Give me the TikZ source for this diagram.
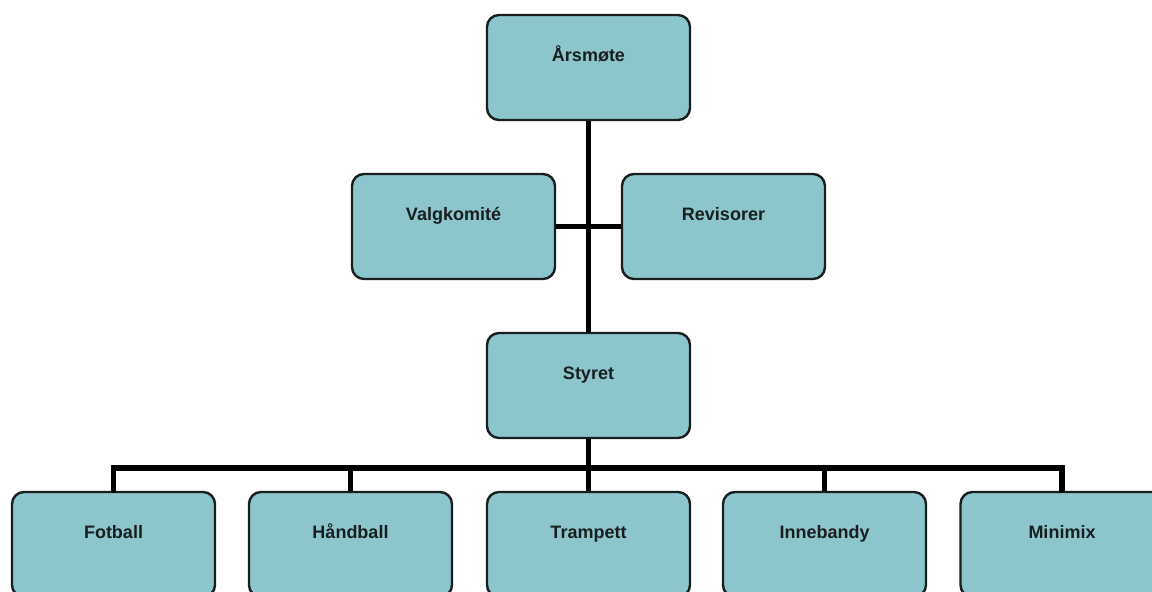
\documentclass[tikz,border=0pt]{standalone}
\usepackage{fontspec}
\setmainfont{Liberation Sans}
\definecolor{boxfill}{RGB}{141,197,205}
\definecolor{boxline}{RGB}{25,30,30}
\begin{document}
\begin{tikzpicture}[x=0.5pt,y=-0.5pt,
  box/.style={draw=boxline,line width=1.2pt,fill=boxfill,rounded corners=6pt,
    minimum width=101.5pt,minimum height=52.5pt,inner sep=0pt},
  lbl/.style={font=\fontsize{9}{11}\selectfont\bfseries,text=boxline,inner sep=0pt,anchor=base},
  conn/.style={draw=black,line width=2.6pt}]
\useasboundingbox (0,0) rectangle (1152,592);
\clip (0,0) rectangle (1152,592);
% boxes
\node[box] (aars) at (588.5,67.5) {};
\node[box] (valg) at (453.5,226.5) {};
\node[box] (rev) at (723.5,226.5) {};
\node[box] (styr) at (588.5,385.5) {};
\node[box] (fot) at (113.5,544.5) {};
\node[box] (hand) at (350.5,544.5) {};
\node[box] (tramp) at (588.5,544.5) {};
\node[box] (inne) at (824.5,544.5) {};
\node[box] (mini) at (1062,544.5) {};
% connectors
\coordinate (bus) at (588.5,468);
\draw[conn] (aars.south) -- (styr.north);
\draw[conn] (valg.east) -- (rev.west);
\draw[conn] (styr.south) -- (bus);
\draw[conn,line cap=rect] (fot.north) |- (bus) -| (mini.north);
\draw[conn] (hand.north) -- (hand.north |- bus);
\draw[conn] (tramp.north) -- (bus);
\draw[conn] (inne.north) -- (inne.north |- bus);
% labels
\node[lbl] at ([yshift=-24pt]aars.north) {Årsmøte};
\node[lbl] at ([yshift=-24pt]valg.north) {Valgkomité};
\node[lbl] at ([yshift=-24pt]rev.north) {Revisorer};
\node[lbl] at ([yshift=-24pt]styr.north) {Styret};
\node[lbl] at ([yshift=-24pt]fot.north) {Fotball};
\node[lbl] at ([yshift=-24pt]hand.north) {Håndball};
\node[lbl] at ([yshift=-24pt]tramp.north) {Trampett};
\node[lbl] at ([yshift=-24pt]inne.north) {Innebandy};
\node[lbl] at ([yshift=-24pt]mini.north) {Minimix};
\end{tikzpicture}
\end{document}
